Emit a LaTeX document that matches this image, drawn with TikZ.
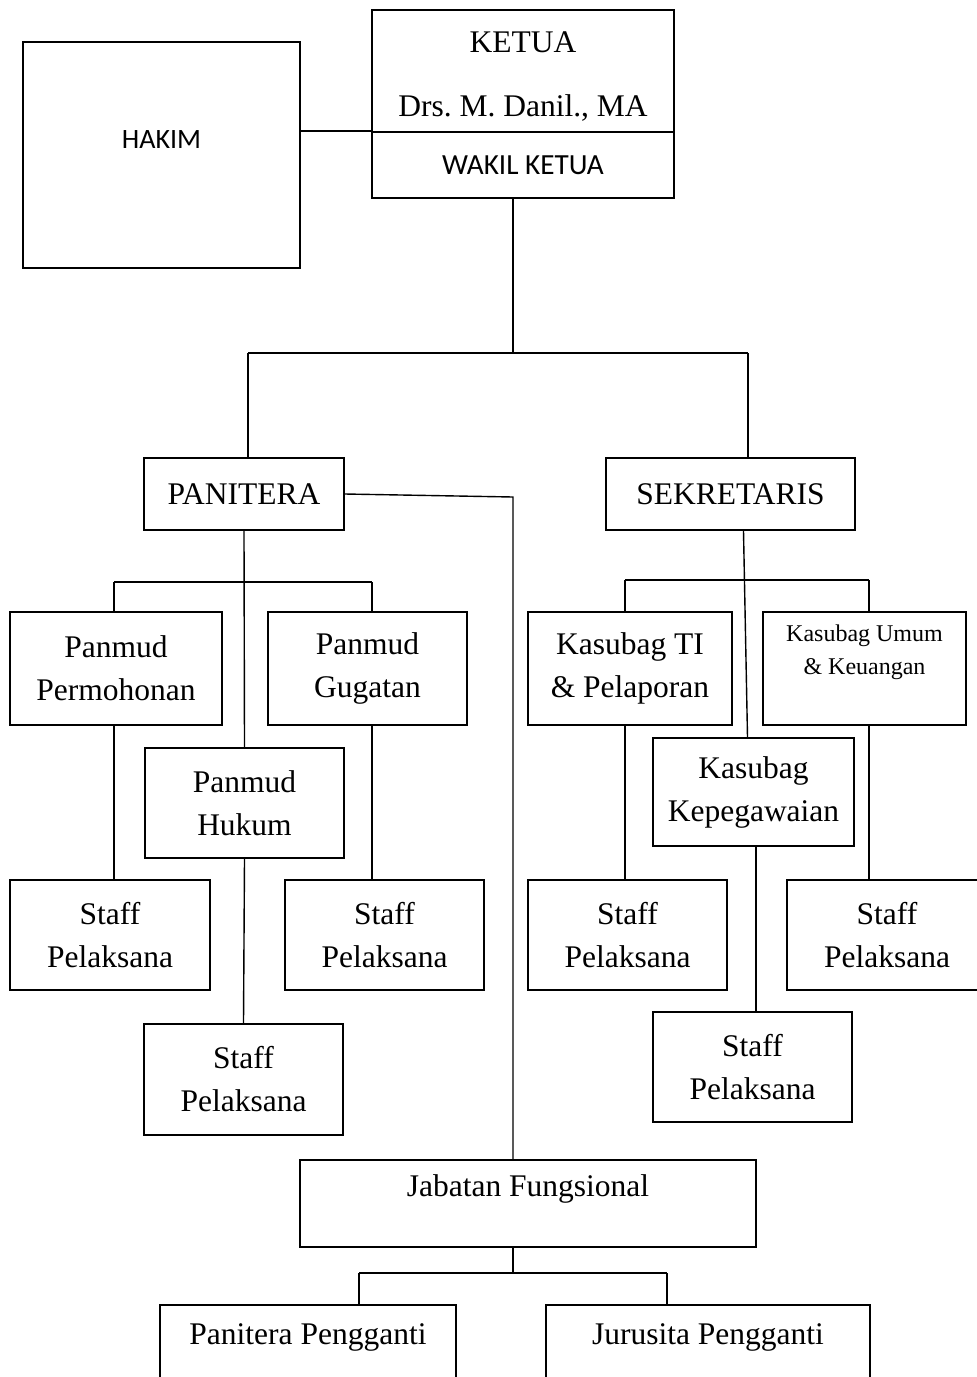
\documentclass[tikz,border=0pt]{standalone}
\usepackage{fontspec}
\setmainfont{Liberation Serif}
\newfontfamily\carlito{Carlito}
\frenchspacing
\begin{document}
\begin{tikzpicture}[x=0.5pt,y=-0.5pt,
  unit/.style={draw,line width=1pt,align=center,inner sep=0pt,
    font=\fontsize{15.75}{21.5}\selectfont},
  caption/.style={align=center,inner sep=0pt,font=\fontsize{15.75}{21.5}\selectfont},
  sans/.style={align=center,inner sep=0pt,font=\carlito\fontsize{14}{17}\selectfont},
  link/.style={line width=0.7pt}]
  \useasboundingbox (0,0) rectangle (977,1377);
  \clip (0,0) rectangle (977,1377);

  % pimpinan
  \node[unit,minimum width=138.5pt,minimum height=113pt] (hakim) at (161.5,155) {};
  \node[sans] (hakim-t) at (161.5,140) {HAKIM};
  \node[unit,minimum width=151pt,minimum height=61pt] (ketua) at (523,71) {};
  \node[caption] (ketua-t) at (523,42) {KETUA};
  \node[caption] (danil-t) at (523,108) {Drs. M. Danil., MA};
  \node[unit,minimum width=151pt,minimum height=33pt,font=\carlito\fontsize{14.6}{17}\selectfont] (wakil) at (523,165) {WAKIL KETUA};

  % panitera dan sekretaris
  \node[unit,minimum width=100pt,minimum height=36pt] (panitera) at (244,494) {PANITERA};
  \node[unit,minimum width=124.5pt,minimum height=36pt] (sekretaris) at (730.5,494) {SEKRETARIS};

  % kepaniteraan
  \node[unit,minimum width=106pt,minimum height=56.5pt] (permohonan) at (116,668.5) {Panmud\\Permohonan};
  \node[unit,minimum width=99.5pt,minimum height=56.5pt] (gugatan) at (367.5,668.5) {Panmud\\Gugatan};
  \node[unit,minimum width=99.5pt,minimum height=55pt] (hukum) at (244.5,803) {Panmud\\Hukum};
  \node[unit,minimum width=100pt,minimum height=55pt] (staffa) at (110,935) {Staff\\Pelaksana};
  \node[unit,minimum width=99.5pt,minimum height=55pt] (staffb) at (384.5,935) {Staff\\Pelaksana};
  \node[unit,minimum width=99.5pt,minimum height=55.5pt] (staffc) at (243.5,1079.5) {Staff\\Pelaksana};

  % kesekretariatan
  \node[unit,minimum width=102pt,minimum height=56.5pt] (ti) at (630,668.5) {Kasubag TI\\\& Pelaporan};
  \node[unit,minimum width=101.5pt,minimum height=56.5pt] (umum) at (864.5,668.5) {};
  \node[caption,font=\fontsize{12}{16.5}\selectfont] (umum-t) at (864.5,652.5) {Kasubag Umum\\\& Keuangan};
  \node[unit,minimum width=100.5pt,minimum height=54pt] (kepeg) at (753.5,792) {Kasubag\\Kepegawaian};
  \node[unit,minimum width=99.5pt,minimum height=55pt] (staffd) at (627.5,935) {Staff\\Pelaksana};
  \node[unit,minimum width=99.5pt,minimum height=55pt] (staffe) at (752.5,1067) {Staff\\Pelaksana};
  \node[unit,minimum width=100pt,minimum height=55pt] (stafff) at (887,935) {Staff\\Pelaksana};

  % fungsional
  \node[unit,minimum width=228pt,minimum height=43.5pt] (jabatan) at (528,1203.5) {};
  \node[caption] (jabatan-t) at (528,1189) {Jabatan Fungsional};
  \node[unit,minimum width=148pt,minimum height=57.5pt] (pp) at (308,1362.5) {};
  \node[caption] (pp-t) at (308,1337) {Panitera Pengganti};
  \node[unit,minimum width=162pt,minimum height=57.5pt] (js) at (708,1362.5) {};
  \node[caption] (js-t) at (708,1337) {Jurusita Pengganti};

  % titik cabang
  \coordinate (top) at (513,353);
  \coordinate (jl) at (248,353);
  \coordinate (jr) at (748,353);
  \coordinate (jf) at (513,497);
  \coordinate (pl) at (114,582);
  \coordinate (pr) at (372,582);
  \coordinate (sl) at (625,580);
  \coordinate (sr) at (869,580);
  \coordinate (kp) at (756,580);
  \coordinate (fb) at (513,1273);
  \coordinate (bl) at (359,1273);
  \coordinate (br) at (667,1273);

  \draw[link] (hakim.east |- wakil.north west) -- (wakil.north west);
  \draw[link] (top |- wakil.south) -- (top);
  \draw[line width=1pt] (jl) -- (jr);
  \draw[link] (jl) -- (jl |- panitera.north);
  \draw[link] (jr) -- (jr |- sekretaris.north);
  \draw[link] (panitera.east) -- (jf) -- (jf |- jabatan.north);

  \draw[link] (panitera.south) -- (hukum.north);
  \draw[line width=1pt] (pl) -- (pr);
  \draw[link] (pl) -- (pl |- permohonan.north);
  \draw[link] (pr) -- (pr |- gugatan.north);
  \draw[link] (pl |- permohonan.south) -- (pl |- staffa.north);
  \draw[link] (pr |- gugatan.south) -- (pr |- staffb.north);
  \draw[link] (hukum.south) -- (staffc.north);

  \draw[link] ([xshift=6.5pt]sekretaris.south) -- ([xshift=-3pt]kepeg.north);
  \draw[line width=1pt] (sl) -- (sr);
  \draw[link] (sl) -- (sl |- ti.north);
  \draw[link] (sr) -- (sr |- umum.north);
  \draw[link] (sl |- ti.south) -- (sl |- staffd.north);
  \draw[link] (sr |- umum.south) -- (sr |- stafff.north);
  \draw[link] (kp |- kepeg.south) -- (kp |- staffe.north);

  \draw[link] (fb |- jabatan.south) -- (fb);
  \draw[line width=1pt] (bl) -- (br);
  \draw[link] (bl) -- (bl |- pp.north);
  \draw[link] (br) -- (br |- js.north);
\end{tikzpicture}
\end{document}
